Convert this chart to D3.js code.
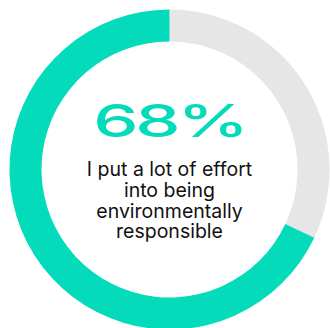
<!DOCTYPE html>
<html>
<head>
<meta charset="utf-8">
<script src="https://cdn.jsdelivr.net/npm/d3@7"></script>
<style>
  html, body { margin: 0; padding: 0; background: #fff; }
  svg { display: block; }
</style>
</head>
<body>
<svg id="chart" width="330" height="328"></svg>
<script>
// Share of respondents, and the remainder of the ring
const categories = ["Agree", "Other"];
const values = [68, 32];
const colors = ["#03dbba", "#e6e6e6"];
const headline = "68%";
const captionLines = ["I put a lot of effort", "into being", "environmentally", "responsible"];

const svg = d3.select("#chart");
const cx = 169.5, cy = 169.5;
const outerR = 160, innerR = 128;

const g = svg.append("g").attr("transform", `translate(${cx},${cy})`);

// The agree slice runs counter-clockwise from 12 o'clock, so the remainder sits first (clockwise)
const pie = d3.pie().sort(null).value(d => d.value);
const arcs = pie([
  { key: categories[1], value: values[1], color: colors[1] },
  { key: categories[0], value: values[0], color: colors[0] }
]);
const arc = d3.arc().innerRadius(innerR).outerRadius(outerR);

g.selectAll("path.slice")
  .data(arcs)
  .join("path")
  .attr("class", "slice")
  .attr("d", arc)
  .attr("fill", d => d.data.color);

// Headline number, set in a wide face by stretching horizontally
const headG = g.append("g")
  .attr("transform", `translate(0,${137 - cy}) scale(1.6,1)`);
headG.append("text")
  .attr("text-anchor", "middle")
  .attr("fill", colors[0])
  .attr("font-family", "Inter, 'DejaVu Sans', sans-serif")
  .attr("font-size", 45)
  .attr("font-weight", 500)
  .attr("letter-spacing", -2)
  .text(headline);

// Caption
const cap = g.append("text")
  .attr("text-anchor", "middle")
  .attr("fill", "#111")
  .attr("font-family", "Inter, 'DejaVu Sans', sans-serif")
  .attr("font-size", 19.5);
captionLines.forEach((line, i) => {
  cap.append("tspan")
    .attr("x", 0)
    .attr("y", 176 - cy + i * 20.8)
    .text(line);
});
</script>
</body>
</html>
